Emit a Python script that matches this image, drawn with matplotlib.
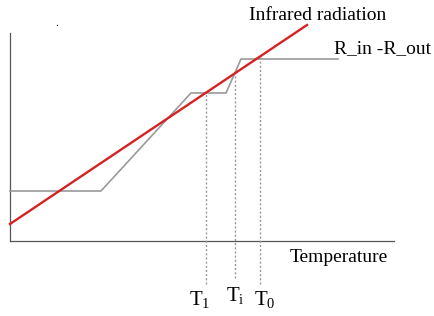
import matplotlib
matplotlib.use("Agg")
import matplotlib.pyplot as plt

# energy balance curve (R_in - R_out) vs temperature
curve_t = [0, 91, 181, 216, 231, 328]
curve_r = [50, 50, 148, 148, 182, 182]

# infrared radiation line
ir_t = [0, 297]
ir_r = [17, 216]

# equilibrium temperatures
t_names = ["T$_1$", "T$_\\mathrm{i}$", "T$_0$"]
t_vals = [196, 225, 250]
t_tops = [148, 168, 184]
t_bottoms = [-43, -37, -43]

plt.rcParams["font.family"] = ["Liberation Serif", "DejaVu Serif"]
plt.rcParams["mathtext.fontset"] = "custom"
plt.rcParams["mathtext.rm"] = "Liberation Serif"
plt.rcParams["mathtext.it"] = "Liberation Serif"

fig = plt.figure(figsize=(4.35, 3.16), dpi=100)
ax = fig.add_axes([0, 0, 1, 1])
ax.set_xlim(-10, 425)
ax.set_ylim(-75, 241)
ax.axis("off")

# axes lines
ax.plot([0, 0], [0, 208], color="#555555", lw=0.9)
ax.plot([0, 384], [0, 0], color="#555555", lw=0.9)

# dotted guides
for t, top, bot in zip(t_vals, t_tops, t_bottoms):
    ax.plot([t, t], [bot, top], color="#999999", lw=1.0, linestyle=(0, (1.5, 1.5)))

ax.plot(curve_t, curve_r, color="#9a9a9a", lw=1.2)
ax.plot(ir_t, ir_r, color="#d62222", lw=1.7)

ax.text(308, 226, "Infrared radiation", fontsize=14, ha="center", va="center")
ax.text(324, 192, "R_in -R_out", fontsize=14, ha="left", va="center")
ax.text(329, -16, "Temperature", fontsize=14, ha="center", va="center")
offsets = [-6, 0, 5]
ys = [-59, -55, -59]
for name, t, dx, y in zip(t_names, t_vals, offsets, ys):
    ax.text(t + dx, y, name, fontsize=15, ha="center", va="center")
ax.text(47, 217, ".", fontsize=8, ha="center", va="center")

fig.savefig("out.png", dpi=100)
